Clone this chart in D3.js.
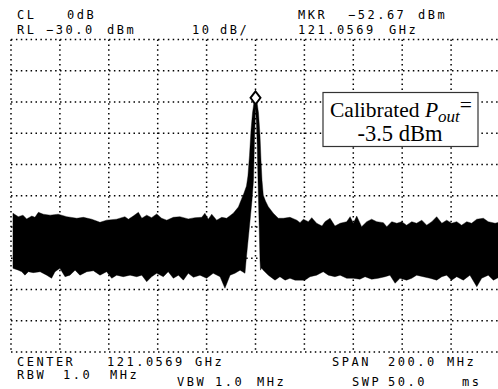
<!DOCTYPE html>
<html>
<head>
<meta charset="utf-8">
<script src="https://cdn.jsdelivr.net/npm/d3@7"></script>
<style>
  html, body { margin: 0; padding: 0; background: #fff; }
  svg { display: block; }
  .readout { font-family: "DejaVu Sans Mono", monospace; font-size: 12px; letter-spacing: 2.5px; fill: #000; }
  .note { font-family: "Liberation Serif", "Times New Roman", serif; fill: #000; }
</style>
</head>
<body>
<svg id="chart" width="498" height="389"></svg>
<script>
// Instrument settings shown in the readouts
const centerGHz = 121.0569;
const spanMHz = 200.0;
const refLevelDbm = -30.0;
const dbPerDiv = 10;
const rbwMHz = 1.0;
const vbwMHz = 1.0;
const sweepMs = 50.0;
const calibratedPoutDbm = -3.5;

// Screen levels: top graticule line and the ten 10 dB divisions below it
const levelTicks = [-34, -44, -54, -64, -74, -84, -94, -104, -114, -124, -134];
// Frequency graticule, offset from centre (MHz)
const freqTicks = [-100, -80, -60, -40, -20, 0, 20, 40, 60, 80, 100];

// Marker on the carrier
const markerMHz = 0;
const markerDbm = -52.67;

// Upper envelope of the swept trace (offset MHz, dBm)
const upperMHz = [-99.2, -97.0, -95.1, -93.6, -91.5, -90.2, -88.8, -86.8, -84.0, -80.7,
  -77.2, -73.1, -70.4, -67.0, -63.6, -60.9, -56.8, -53.4, -52.0, -50.0,
  -47.9, -46.5, -44.5, -42.5, -40.4, -38.4, -36.3, -33.6, -30.9, -27.5,
  -24.7, -22.0, -20.7, -19.3, -17.9, -15.9, -13.8, -11.8, -9.1, -7.0,
  -5.9, -4.7, -3.7, -3.1, -2.45, -1.84, -1.23, -0.61, 0, 0.61,
  1.23, 1.84, 2.25, 2.66, 3.19, 4.09, 5.24, 7.28, 9.33, 11.4,
  14.1, 16.9, 18.2, 19.6, 21.6, 23.0, 25.0, 27.2, 28.4, 30.5,
  32.5, 34.6, 37.3, 38.7, 40.0, 41.4, 43.4, 45.5, 47.5, 49.6,
  52.3, 53.7, 55.7, 57.8, 59.8, 61.8, 63.9, 65.9, 68.0, 70.0,
  72.1, 74.1, 76.2, 78.2, 80.2, 82.3, 84.3, 86.4, 88.4, 90.5,
  93.2, 95.2, 98.0, 100];
const upperDbm = [-89.6, -90.7, -90.2, -91.4, -90.5, -90.9, -89.3, -89.9, -90.2, -89.9,
  -90.7, -91.2, -90.9, -91.5, -92.5, -91.8, -91.5, -90.7, -91.5, -90.5,
  -89.3, -91.2, -90.2, -91.0, -89.8, -91.2, -91.8, -90.9, -90.7, -91.4,
  -91.0, -90.9, -89.6, -91.5, -89.9, -91.8, -90.9, -91.2, -89.6, -87.6,
  -85.4, -83.1, -80.9, -77.7, -71.0, -63.0, -57.5, -54.0, -52.67, -54.0,
  -57.5, -64.6, -72.6, -79.0, -83.8, -85.7, -87.5, -89.6, -91.2, -91.2,
  -90.9, -91.8, -92.6, -91.5, -92.3, -91.0, -92.8, -93.7, -92.3, -91.2,
  -93.7, -92.8, -92.3, -90.7, -92.8, -90.5, -93.9, -92.3, -91.5, -92.3,
  -92.6, -93.9, -92.3, -92.8, -92.3, -93.4, -92.3, -92.8, -91.8, -93.4,
  -92.3, -90.7, -92.8, -91.8, -92.8, -92.3, -93.4, -92.3, -92.8, -91.5,
  -91.2, -92.3, -92.8, -92.4];

// Lower envelope of the swept trace (offset MHz, dBm)
const lowerMHz = [-99.2, -97.0, -95.6, -94.3, -92.9, -90.9, -88.1, -85.4, -83.4, -82.0,
  -80.0, -77.9, -75.9, -73.8, -71.8, -69.0, -66.3, -63.6, -60.9, -58.8,
  -56.8, -54.1, -51.3, -48.6, -46.5, -44.5, -42.5, -40.4, -37.7, -35.7,
  -33.6, -31.5, -29.5, -27.5, -25.4, -22.7, -20.0, -17.3, -14.5, -12.5,
  -10.4, -8.4, -6.3, -4.3, -3.9, -3.1, -2.25, -1.43, -0.82, -0.41,
  0, 0.41, 0.70, 1.02, 1.43, 1.84, 2.05, 2.45, 3.19, 5.24,
  7.98, 10.0, 12.1, 14.1, 16.2, 18.2, 20.2, 22.3, 25.0, 27.7,
  29.8, 32.5, 34.6, 37.3, 40.0, 42.7, 44.8, 47.5, 50.2, 53.0,
  55.0, 57.1, 59.1, 61.8, 63.9, 65.9, 68.6, 71.4, 74.1, 76.2,
  78.2, 80.2, 82.3, 85.0, 87.7, 90.5, 92.5, 95.2, 97.3, 100];
const lowerDbm = [-107.2, -107.8, -108.3, -109.4, -108.3, -108.6, -108.3, -109.4, -110.4, -108.3,
  -107.2, -109.9, -109.4, -107.8, -109.4, -108.3, -108.0, -109.4, -108.3, -110.4,
  -109.4, -109.9, -109.4, -109.9, -109.4, -111.5, -109.9, -108.8, -109.9, -108.3,
  -110.4, -109.4, -111.0, -108.8, -110.1, -109.4, -110.4, -108.8, -109.9, -113.6,
  -109.4, -108.8, -107.8, -108.8, -105.2, -98.8, -92.1, -85.4, -79.0, -66.2,
  -55.6, -61.4, -67.8, -79.0, -91.8, -104.6, -107.8, -107.1, -107.8, -109.4,
  -111.0, -109.9, -111.0, -110.4, -111.0, -111.0, -111.0, -109.9, -109.4, -108.3,
  -109.4, -109.9, -109.4, -110.4, -110.4, -110.7, -109.9, -110.7, -110.4, -109.9,
  -109.4, -112.0, -110.4, -111.0, -110.4, -109.4, -109.9, -110.4, -111.0, -109.9,
  -109.4, -111.0, -109.9, -111.0, -109.4, -113.1, -110.4, -109.4, -111.0, -109.9];

const svg = d3.select("#chart");

const x = d3.scaleLinear().domain([-spanMHz / 2, spanMHz / 2]).range([11, 500]);
const y = d3.scaleLinear().domain([d3.min(levelTicks), d3.max(levelTicks)]).range([352, 39.5]);

// Dotted graticule
const grid = svg.append("g")
  .attr("stroke", "#000")
  .attr("stroke-width", 1.5)
  .attr("stroke-dasharray", "1.5,3.4");

grid.selectAll("line.h").data(levelTicks).join("line")
  .attr("class", "h")
  .attr("x1", x(-spanMHz / 2)).attr("x2", x(spanMHz / 2))
  .attr("y1", d => y(d)).attr("y2", d => y(d));

grid.selectAll("line.v").data(freqTicks).join("line")
  .attr("class", "v")
  .attr("x1", d => x(d)).attr("x2", d => x(d))
  .attr("y1", y(d3.max(levelTicks))).attr("y2", y(d3.min(levelTicks)));

// Swept trace: filled between its upper and lower envelopes
const upperPts = upperMHz.map((f, i) => [f, upperDbm[i]]);
const lowerPts = lowerMHz.map((f, i) => [f, lowerDbm[i]]).reverse();
const traceLine = d3.line().x(d => x(d[0])).y(d => y(d[1]));

svg.append("path")
  .attr("d", traceLine(upperPts.concat(lowerPts)) + "Z")
  .attr("fill", "#000")
  .attr("stroke", "#000")
  .attr("stroke-width", 0.4)
  .attr("stroke-linejoin", "round");

// Marker diamond at the carrier peak
const mx = x(markerMHz), my = y(markerDbm);
svg.append("path")
  .attr("d", `M${mx},${my - 6.5}L${mx + 5},${my}L${mx},${my + 6.5}L${mx - 5},${my}Z`)
  .attr("fill", "#fff")
  .attr("stroke", "#000")
  .attr("stroke-width", 1.9);

// Screen readouts
const fmt1 = d3.format(".1f");
const readouts = [
  ["CL", 17, 19], ["0dB", 67, 19],
  ["MKR", 298, 19], [d3.format(".2f")(markerDbm), 348, 19], ["dBm", 418, 19],
  ["RL", 17, 34], [fmt1(refLevelDbm), 46, 34], ["dBm", 107, 34],
  [String(dbPerDiv), 192, 34], ["dB/", 220, 34],
  [d3.format(".4f")(centerGHz), 298, 34], ["GHz", 389, 34],
  ["CENTER", 17, 366], [d3.format(".4f")(centerGHz), 107, 366], ["GHz", 195, 366],
  ["SPAN", 332, 366], [fmt1(spanMHz), 388, 366], ["MHz", 447, 366],
  ["RBW", 17, 379], [fmt1(rbwMHz), 63, 379], ["MHz", 110, 379],
  ["VBW", 177, 386], [fmt1(vbwMHz), 215, 386], ["MHz", 257, 386],
  ["SWP", 352, 386], [fmt1(sweepMs), 388, 386], ["ms", 462, 386]
];
svg.append("g").selectAll("text").data(readouts).join("text")
  .attr("class", "readout")
  .attr("x", d => d[1])
  .attr("y", d => d[2])
  .text(d => d[0]);

// Calibrated output power note
const note = svg.append("g");
note.append("rect")
  .attr("x", 323).attr("y", 92.5)
  .attr("width", 155).attr("height", 54)
  .attr("fill", "#fff")
  .attr("stroke", "#333")
  .attr("stroke-width", 1.2);

const line1 = note.append("text")
  .attr("class", "note")
  .attr("x", 401).attr("y", 116.5)
  .attr("text-anchor", "middle")
  .attr("font-size", 21.5);
line1.append("tspan").text("Calibrated ");
line1.append("tspan").attr("font-style", "italic").text("P");
line1.append("tspan").attr("font-style", "italic").attr("font-size", 17).attr("dy", 5).text("out");
line1.append("tspan").attr("dy", -10).text("=");

note.append("text")
  .attr("class", "note")
  .attr("x", 400).attr("y", 140.5)
  .attr("text-anchor", "middle")
  .attr("font-size", 22.5)
  .text(`${calibratedPoutDbm} dBm`);
</script>
</body>
</html>
